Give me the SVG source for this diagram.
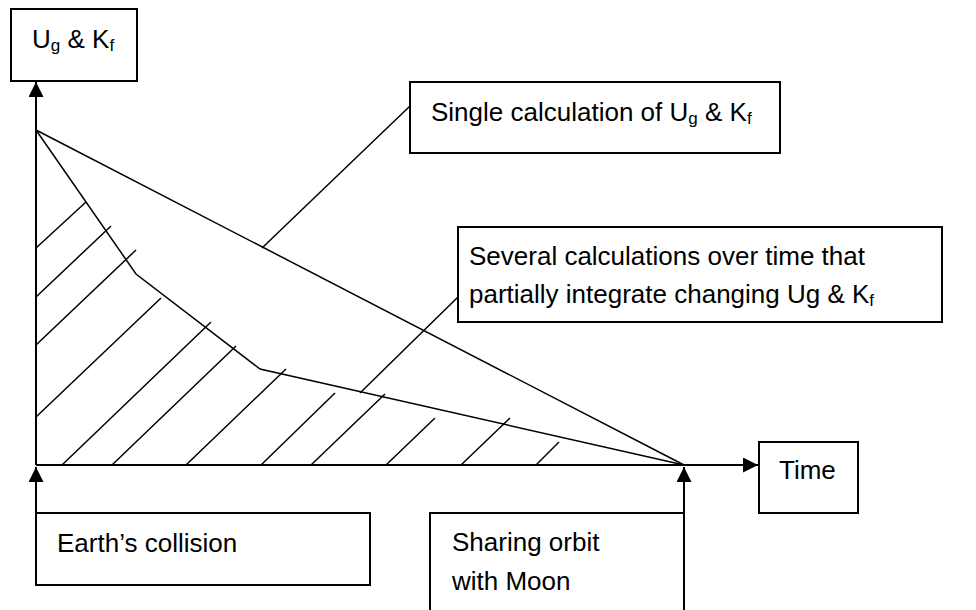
<svg xmlns="http://www.w3.org/2000/svg" width="976" height="610" viewBox="0 0 976 610">
<defs>
<marker id="ah" viewBox="0 0 10 10" refX="10" refY="5" markerWidth="15" markerHeight="15" markerUnits="userSpaceOnUse" orient="auto">
<path d="M0,0 L10,5 L0,10 Z" fill="#000"/>
</marker>
<style>
.box{fill:#fff;stroke:#000;stroke-width:2}
.ln{stroke:#000;stroke-width:1.5;fill:none}
.ax{stroke:#000;stroke-width:2;fill:none}
text{font-family:"Liberation Sans",Arial,sans-serif;font-size:26px;fill:#000}
.sub{font-size:17px}
</style>
</defs>
<rect width="976" height="610" fill="#fff"/>
<g id="connectors">
<line class="ax" x1="36" y1="465" x2="36" y2="82" marker-end="url(#ah)"/>
<line class="ax" x1="36" y1="465" x2="758" y2="465" marker-end="url(#ah)"/>
<line class="ax" x1="36" y1="585" x2="36" y2="467" marker-end="url(#ah)"/>
<line class="ax" x1="684" y1="610" x2="684" y2="467" marker-end="url(#ah)"/>
<line class="ln" x1="36" y1="130" x2="684" y2="465"/>
<polyline class="ln" points="36,130 136,274 260,369 684,465"/>
<g id="hatch">
<line class="ln" x1="36" y1="248" x2="86" y2="202"/>
<line class="ln" x1="36" y1="297" x2="111" y2="226"/>
<line class="ln" x1="36" y1="345" x2="136" y2="250"/>
<line class="ln" x1="36" y1="417" x2="161" y2="298"/>
<line class="ln" x1="62" y1="465" x2="211" y2="322"/>
<line class="ln" x1="112" y1="465" x2="236" y2="346"/>
<line class="ln" x1="186" y1="465" x2="286" y2="369"/>
<line class="ln" x1="261" y1="465" x2="335" y2="393"/>
<line class="ln" x1="311" y1="465" x2="385" y2="394"/>
<line class="ln" x1="386" y1="465" x2="435" y2="418"/>
<line class="ln" x1="461" y1="465" x2="510" y2="418"/>
<line class="ln" x1="536" y1="465" x2="559" y2="442"/>
</g>
<line class="ln" x1="262" y1="248" x2="410" y2="106"/>
<line class="ln" x1="360" y1="393" x2="458" y2="297"/>
</g>
<g id="node-ugkf">
<rect class="box" x="11" y="9" width="126" height="72"/>
<text x="32" y="48">U<tspan class="sub" dy="3">g</tspan><tspan dy="-3"> &amp; K</tspan><tspan class="sub" dy="3">f</tspan></text>
</g>
<g id="node-single">
<rect class="box" x="410" y="82" width="370" height="71"/>
<text x="431" y="121">Single calculation of U<tspan class="sub" dy="3">g</tspan><tspan dy="-3"> &amp; K</tspan><tspan class="sub" dy="3">f</tspan></text>
</g>
<g id="node-several">
<rect class="box" x="458" y="227" width="484" height="95"/>
<text x="469" y="265">Several calculations over time that</text>
<text x="469" y="303">partially integrate changing Ug &amp; K<tspan class="sub" dy="3">f</tspan></text>
</g>
<g id="node-time">
<rect class="box" x="759" y="442" width="99" height="71"/>
<text x="779" y="479">Time</text>
</g>
<g id="node-earth">
<rect class="box" x="36" y="513" width="334" height="72"/>
<text x="57" y="552">Earth’s collision</text>
</g>
<g id="node-sharing">
<rect class="box" x="430" y="513" width="254" height="110"/>
<text x="452" y="551">Sharing orbit</text>
<text x="452" y="590">with Moon</text>
</g>
</svg>
